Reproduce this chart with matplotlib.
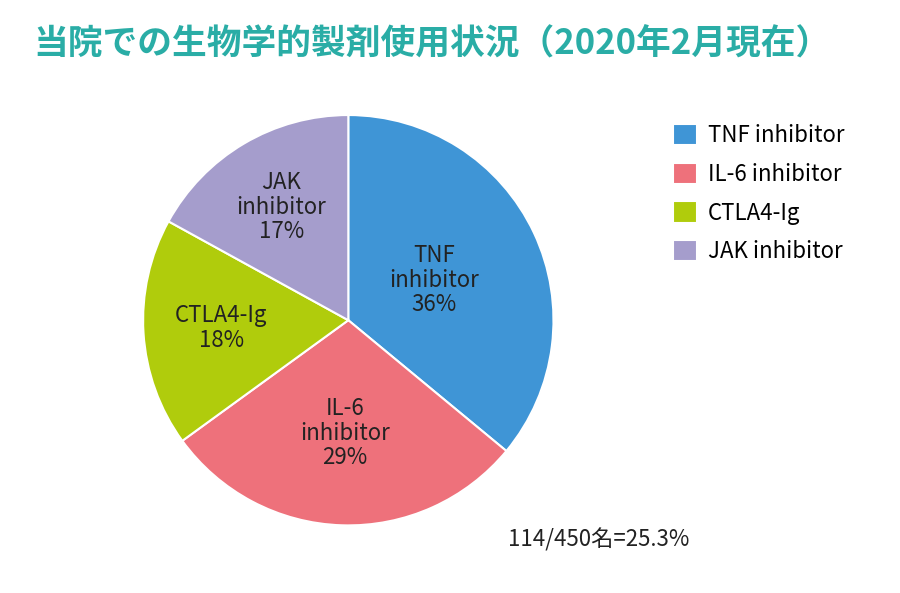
import matplotlib
matplotlib.use("Agg")
import matplotlib.pyplot as plt

categories = ["TNF inhibitor", "IL-6 inhibitor", "CTLA4-Ig", "JAK inhibitor"]
wedge_labels = ["TNF\ninhibitor\n36%", "IL-6\ninhibitor\n29%", "CTLA4-Ig\n18%", "JAK\ninhibitor\n17%"]
values = [36, 29, 18, 17]
colors = ["#3f95d6", "#ee717b", "#b0cc0c", "#a59dcc"]
label_dist = [0.46, 0.55, 0.62, 0.64]

plt.rcParams["font.family"] = ["Noto Sans CJK JP", "DejaVu Sans"]

fig = plt.figure(figsize=(9, 5.93), dpi=100)
ax = fig.add_axes([0.159, 0.114, 0.456, 0.692])
wedges, texts = ax.pie(values, colors=colors, startangle=90, counterclock=False,
                       labels=wedge_labels, labeldistance=0.55,
                       textprops=dict(fontsize=16, color="#222222", ha="center", va="center",
                                      linespacing=1.1),
                       wedgeprops=dict(edgecolor="white", linewidth=1.5))
for t, d in zip(texts, label_dist):
    x, y = t.get_position()
    t.set_position((x / 0.55 * d, y / 0.55 * d))
    t.set_ha("center")
ax.set_xlim(-1.0, 1.0)
ax.set_ylim(-1.0, 1.0)
ax.set_aspect("equal")

fig.legend(wedges, categories, loc="upper left", bbox_to_anchor=(0.725, 0.825),
           frameon=False, fontsize=16, handlelength=1.1, handleheight=1.1,
           labelspacing=0.7, handletextpad=0.5)

fig.text(0.037, 0.925, "当院での生物学的製剤使用状況（2020年2月現在）", fontsize=25,
         fontweight="bold", color="#2aada6", va="center", ha="left")
fig.text(0.665, 0.09, "114/450名=25.3%", fontsize=16, color="#222222", ha="center", va="center")

fig.savefig("out.png", dpi=100)
